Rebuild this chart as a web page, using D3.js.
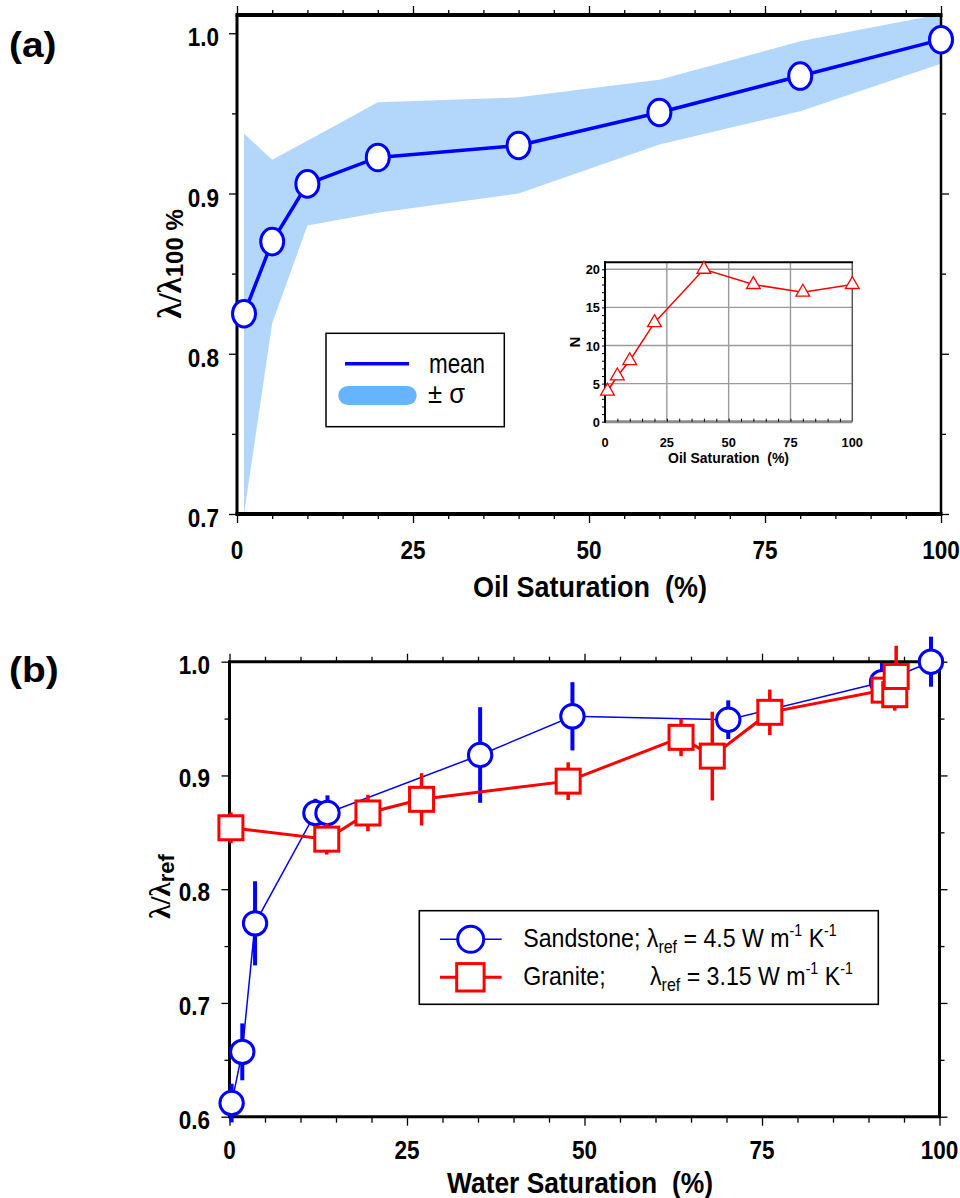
<!DOCTYPE html>
<html><head><meta charset="utf-8">
<script src="https://cdn.jsdelivr.net/npm/d3@7"></script>
<style>body{margin:0;background:#fff} text{white-space:pre}</style>
</head><body>
<script>
// ---------- DATA ----------
// Panel (a): oil saturation vs normalised conductivity
const oilSat      = [1, 5, 10, 20, 40, 60, 80, 100];
const meanRatio   = [0.825, 0.870, 0.906, 0.9225, 0.930, 0.9506, 0.9733, 0.996];
const upperSigma  = [0.9375, 0.921, 0.933, 0.957, 0.960, 0.971, 0.995, 1.012];
const lowerSigma  = [0.700, 0.819, 0.880, 0.888, 0.900, 0.9306, 0.9514, 0.981];
// inset: number of samples
const sampleN     = [4, 6, 8, 13, 20, 18, 17, 18];
// Panel (b): water saturation
const sandWS    = [0.3, 1.8, 3.6, 12.1, 13.8, 35.3, 48.3, 70.25, 91.9, 98.8];
const sandRatio = [0.612, 0.657, 0.770, 0.867, 0.867, 0.918, 0.952, 0.949, 0.982, 1.000];
const sandErr   = [0.017, 0.025, 0.037, 0.0125, 0.0155, 0.042, 0.030, 0.017, 0.017, 0.022];
const graWS     = [0.2, 13.7, 19.5, 27.05, 47.7, 63.6, 68.0, 76.1, 92.2, 93.7, 93.9];
const graRatio  = [0.854, 0.844, 0.867, 0.879, 0.895, 0.9335, 0.917, 0.9555, 0.975, 0.971, 0.987];
const graErr    = [0.0135, 0.0135, 0.016, 0.023, 0.0166, 0.0166, 0.039, 0.020, 0.010, 0.014, 0.027];
// tick labels
const xTicksMajor = [0, 25, 50, 75, 100];
const yTicksA     = [0.7, 0.8, 0.9, 1.0];
const yTicksB     = [0.6, 0.7, 0.8, 0.9, 1.0];
const yTicksInset = [0, 5, 10, 15, 20];
const legendA     = ["mean", "\u00B1 \u03C3"];

// ---------- SETUP ----------
const W = 960, H = 1198;
const SANS = "'Liberation Sans', Arial, Helvetica, sans-serif";
const SERIF = "'Liberation Serif', 'DejaVu Serif', serif";
const BLUE = "#0000ff", RED = "#ff0000";
const svg = d3.select("body").append("svg").attr("width", W).attr("height", H).style("display", "block");
svg.append("rect").attr("width", W).attr("height", H).attr("fill", "#fff");

function txt(g, x, y, str, o = {}) {
  return g.append("text")
    .attr("transform", `translate(${x},${y}) scale(${o.sx || 1},1)`)
    .attr("text-anchor", o.anchor || "start")
    .attr("font-family", o.family || SANS)
    .attr("font-size", o.fs || 16)
    .attr("font-weight", o.bold ? "bold" : "normal")
    .attr("fill", o.fill || "#000")
    .style("white-space", "pre")
    .text(str);
}
function tickSet(g, gen, scale, values, size, tx, ty, sw) {
  g.append("g").attr("transform", `translate(${tx},${ty})`)
    .call(gen(scale).tickValues(values).tickSize(size).tickFormat(() => ""))
    .call(s => { s.select(".domain").remove(); s.selectAll("line").attr("stroke", "#000").attr("stroke-width", sw); });
}
function hline(g, x1, x2, y, w, c = "#000") {
  g.append("line").attr("x1", x1).attr("x2", x2).attr("y1", y).attr("y2", y).attr("stroke", c).attr("stroke-width", w);
}
function vline(g, x, y1, y2, w, c = "#000") {
  g.append("line").attr("x1", x).attr("x2", x).attr("y1", y1).attr("y2", y2).attr("stroke", c).attr("stroke-width", w);
}
const fmt1 = d3.format(".1f");
const xMinor = d3.range(0, 101, 5).filter(v => v % 25 !== 0);

// ================= PANEL (a) =================
const gA = svg.append("g");
const xA = d3.scaleLinear().domain([0, 100]).range([237, 941]);
const yA = d3.scaleLinear().domain([0.7, 1.0114]).range([514, 15]);
const aL = xA(0), aR = xA(100), aT = yA(1.0114), aB = yA(0.7);

gA.append("clipPath").attr("id", "clipA").append("rect")
  .attr("x", aL).attr("y", aT).attr("width", aR - aL).attr("height", aB - aT);

const bandData = oilSat.map((x, i) => ({ x, lo: lowerSigma[i], hi: upperSigma[i], m: meanRatio[i], n: sampleN[i] }));
gA.append("path").datum(bandData).attr("clip-path", "url(#clipA)")
  .attr("fill", "#b3d7fa")
  .attr("d", d3.area().x(d => xA(d.x)).y0(d => yA(d.lo)).y1(d => yA(d.hi)));

// ---- inset ----
const gI = gA.append("g");
const xI = d3.scaleLinear().domain([0, 100]).range([605, 852.3]);
const yI = d3.scaleLinear().domain([0, 20]).range([421.7, 269.3]);
const iL = xI(0), iR = xI(100), iT = yI(20.92), iB = yI(0);
gI.append("rect").attr("x", iL).attr("y", iT).attr("width", iR - iL).attr("height", iB - iT).attr("fill", "#fff");
[25, 50, 75].forEach(v => vline(gI, xI(v), iT, iB, 1.4, "#9a9a9a"));
[5, 10, 15, 20].forEach(v => hline(gI, iL, iR, yI(v), 1.4, "#9a9a9a"));
hline(gI, iL, iR, iB, 3, "#8c8c8c");
vline(gI, iR, iT, iB, 1.5, "#555");
hline(gI, iL - 1, iR + 0.75, iT, 2, "#000");
vline(gI, iL, iT - 1, iB + 1, 2, "#000");
tickSet(gI, d3.axisLeft, yI, d3.range(0, 21, 1), 3, iL, 0, 1);
tickSet(gI, d3.axisTop, xI, d3.range(5, 100, 5), 3, 0, iB, 1);
yTicksInset.forEach(v => txt(gI, 600, yI(v) + 5, String(v), { fs: 13.5, bold: true, anchor: "end", sx: 0.95 }));
xTicksMajor.forEach(v => txt(gI, xI(v), 446.7, String(v), { fs: 13.5, bold: true, anchor: "middle", sx: 0.95 }));
txt(gI, 728.5, 463.3, "Oil Saturation  (%)", { fs: 15.5, bold: true, anchor: "middle", sx: 0.9 });
gI.append("text").attr("transform", "translate(580,342) rotate(-90)").attr("text-anchor", "middle")
  .attr("font-family", SANS).attr("font-weight", "bold").attr("font-size", 15).text("N");
gI.append("path").datum(bandData).attr("fill", "none").attr("stroke", RED).attr("stroke-width", 1.5)
  .attr("d", d3.line().x(d => xI(d.x)).y(d => yI(d.n)));
gI.selectAll(".tri").data(bandData).enter().append("path")
  .attr("transform", d => `translate(${xI(d.x)},${yI(d.n)})`)
  .attr("d", d3.symbol(d3.symbolTriangle, 82))
  .attr("fill", "#fff").attr("stroke", RED).attr("stroke-width", 1.3);

// ---- frame + ticks ----
tickSet(gA, d3.axisTop, xA, xMinor, 5, 0, aT, 1.3);
tickSet(gA, d3.axisTop, xA, xTicksMajor, 9, 0, aT, 1.3);
tickSet(gA, d3.axisBottom, xA, xMinor, 5, 0, aB, 1.3);
tickSet(gA, d3.axisBottom, xA, xTicksMajor, 9, 0, aB, 1.3);
tickSet(gA, d3.axisLeft, yA, [0.75, 0.85, 0.95], 5, aL, 0, 1.3);
tickSet(gA, d3.axisLeft, yA, yTicksA, 8, aL, 0, 1.3);
tickSet(gA, d3.axisRight, yA, [0.75, 0.85, 0.95], 5, aR, 0, 1.3);
tickSet(gA, d3.axisRight, yA, yTicksA, 8, aR, 0, 1.3);
hline(gA, aL - 1.5, aR + 1.5, aT, 4);
hline(gA, aL - 1.5, aR + 1.5, aB, 4);
vline(gA, aL, aT, aB, 3);
vline(gA, aR, aT, aB, 2.5);

yTicksA.forEach(v => txt(gA, 219, yA(v) + 13, fmt1(v), { fs: 25, bold: true, anchor: "end", sx: 0.9 }));
xTicksMajor.forEach(v => txt(gA, xA(v), 559, String(v), { fs: 25, bold: true, anchor: "middle", sx: 0.9 }));
txt(gA, 590, 597, "Oil Saturation  (%)", { fs: 30, bold: true, anchor: "middle", sx: 0.9 });
{
  const t = gA.append("text").attr("transform", "translate(181,264) rotate(-90)").attr("text-anchor", "middle")
    .attr("font-weight", "bold").style("white-space", "pre");
  t.append("tspan").attr("font-family", SERIF).attr("font-size", 33).text("\u03BB/\u03BB");
  t.append("tspan").attr("font-family", SANS).attr("font-size", 24).attr("dy", 2).text("100 %");
}
txt(gA, 9, 57, "(a)", { fs: 36, bold: true, sx: 1.08 });

// ---- mean line + markers ----
gA.append("path").datum(bandData).attr("fill", "none").attr("stroke", BLUE).attr("stroke-width", 3.5)
  .attr("d", d3.line().x(d => xA(d.x)).y(d => yA(d.m)));
gA.selectAll(".mk").data(bandData).enter().append("ellipse")
  .attr("cx", d => xA(d.x)).attr("cy", d => yA(d.m)).attr("rx", 11.5).attr("ry", 13.3)
  .attr("fill", "#fff").attr("stroke", BLUE).attr("stroke-width", 3);

// ---- legend (a) ----
gA.append("rect").attr("x", 326).attr("y", 333.3).attr("width", 178.3).attr("height", 93.4)
  .attr("fill", "#fff").attr("stroke", "#000").attr("stroke-width", 1.5);
hline(gA, 345, 409, 363.7, 3.5, BLUE);
gA.append("rect").attr("x", 338.3).attr("y", 386).attr("width", 78.4).attr("height", 19).attr("rx", 9.5)
  .attr("fill", "#66b3ff");
txt(gA, 429, 373, legendA[0], { fs: 27, sx: 0.83 });
txt(gA, 428, 403, legendA[1], { fs: 27, sx: 0.95 });

// ================= PANEL (b) =================
const gB = svg.append("g");
const xB = d3.scaleLinear().domain([0, 100]).range([229.5, 939.5]);
const yB = d3.scaleLinear().domain([0.6, 1.0]).range([1116.7, 661.7]);
const bL = xB(0), bR = xB(100), bT = yB(1.0), bB = yB(0.6);

tickSet(gB, d3.axisTop, xB, xMinor, 5, 0, bT, 1.3);
tickSet(gB, d3.axisTop, xB, xTicksMajor, 8, 0, bT, 1.3);
tickSet(gB, d3.axisBottom, xB, xMinor, 6, 0, bB, 1.3);
tickSet(gB, d3.axisBottom, xB, xTicksMajor, 9, 0, bB, 1.3);
tickSet(gB, d3.axisLeft, yB, [0.65, 0.75, 0.85, 0.95], 5, bL, 0, 1.3);
tickSet(gB, d3.axisLeft, yB, yTicksB, 8, bL, 0, 1.3);
tickSet(gB, d3.axisRight, yB, [0.65, 0.75, 0.85, 0.95], 5, bR, 0, 1.3);
tickSet(gB, d3.axisRight, yB, yTicksB, 8, bR, 0, 1.3);
hline(gB, bL - 1.5, bR + 1.5, bT, 3);
hline(gB, bL - 1.5, bR + 1.5, bB, 3);
vline(gB, bL, bT, bB, 3);
vline(gB, bR, bT, bB, 3);

yTicksB.forEach(v => txt(gB, 210, yB(v) + 12, fmt1(v), { fs: 25, bold: true, anchor: "end", sx: 0.9 }));
xTicksMajor.forEach(v => txt(gB, xB(v), 1159, String(v), { fs: 25, bold: true, anchor: "middle", sx: 0.9 }));
txt(gB, 580, 1193, "Water Saturation  (%)", { fs: 30, bold: true, anchor: "middle", sx: 0.88 });
{
  const t = gB.append("text").attr("transform", "translate(170,886.5) rotate(-90)").attr("text-anchor", "middle")
    .attr("font-weight", "bold");
  t.append("tspan").attr("font-family", SERIF).attr("font-size", 29).text("\u03BB/\u03BB");
  t.append("tspan").attr("font-family", SANS).attr("font-size", 22).attr("dy", 4).text("ref");
}
txt(gB, 9, 682, "(b)", { fs: 36, bold: true, sx: 1.08 });

const sand = sandWS.map((x, i) => ({ x, y: sandRatio[i], e: sandErr[i] }));
const gran = graWS.map((x, i) => ({ x, y: graRatio[i], e: graErr[i] }));

// sandstone
gB.selectAll(".eb1").data(sand).enter().append("line")
  .attr("x1", d => xB(d.x)).attr("x2", d => xB(d.x)).attr("y1", d => yB(d.y - d.e)).attr("y2", d => yB(d.y + d.e))
  .attr("stroke", BLUE).attr("stroke-width", 4);
gB.append("path").datum(sand).attr("fill", "none").attr("stroke", BLUE).attr("stroke-width", 1.5)
  .attr("d", d3.line().x(d => xB(d.x)).y(d => yB(d.y)));
gB.selectAll(".c1").data(sand).enter().append("circle")
  .attr("cx", d => xB(d.x)).attr("cy", d => yB(d.y)).attr("r", 11.7)
  .attr("fill", "#fff").attr("stroke", BLUE).attr("stroke-width", 3);
// granite
gB.selectAll(".eb2").data(gran).enter().append("line")
  .attr("x1", d => xB(d.x)).attr("x2", d => xB(d.x)).attr("y1", d => yB(d.y - d.e)).attr("y2", d => yB(d.y + d.e))
  .attr("stroke", RED).attr("stroke-width", 3.5);
gB.append("path").datum(gran).attr("fill", "none").attr("stroke", RED).attr("stroke-width", 3)
  .attr("d", d3.line().x(d => xB(d.x)).y(d => yB(d.y)));
gB.selectAll(".s2").data(gran).enter().append("rect")
  .attr("x", d => xB(d.x) - 12).attr("y", d => yB(d.y) - 12).attr("width", 24).attr("height", 24)
  .attr("fill", "#fff").attr("stroke", RED).attr("stroke-width", 3);

// ---- legend (b) ----
gB.append("rect").attr("x", 419.3).attr("y", 910.7).attr("width", 459).attr("height", 93.6)
  .attr("fill", "#fff").attr("stroke", "#000").attr("stroke-width", 1.6);
hline(gB, 440, 501.7, 939.3, 1.5, BLUE);
gB.append("circle").attr("cx", 470.7).attr("cy", 939.3).attr("r", 13).attr("fill", "#fff").attr("stroke", BLUE).attr("stroke-width", 3);
hline(gB, 440, 501.7, 977.3, 3, RED);
gB.append("rect").attr("x", 456.7).attr("y", 963.6).attr("width", 27.4).attr("height", 27.4).attr("fill", "#fff").attr("stroke", RED).attr("stroke-width", 3);

function legendText(y, name, lamX, val) {
  const sx = 0.89, x0 = 523.3;
  const t = gB.append("text").attr("transform", `translate(${x0},${y}) scale(${sx},1)`)
    .attr("font-family", SANS).attr("font-size", 26).style("white-space", "pre");
  t.append("tspan").text(name);
  const l = t.append("tspan").text("\u03BB");
  if (lamX !== null) l.attr("x", (lamX - x0) / sx);
  t.append("tspan").attr("font-size", 18).attr("dy", 6).text("ref");
  t.append("tspan").attr("dy", -6).text(" = " + val + " W m");
  t.append("tspan").attr("font-size", 16).attr("dy", -11).text("-1");
  t.append("tspan").attr("dy", 11).text(" K");
  t.append("tspan").attr("font-size", 16).attr("dy", -11).text("-1");
}
legendText(947, "Sandstone; ", null, "4.5");
legendText(985, "Granite;", 650, "3.15");
</script>
</body></html>
